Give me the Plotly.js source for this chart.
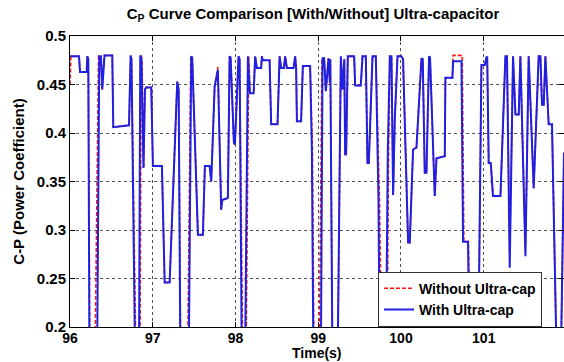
<!DOCTYPE html>
<html>
<head>
<meta charset="utf-8">
<script src="https://cdn.plot.ly/plotly-3.0.1.min.js"></script>
<style>html,body{margin:0;padding:0;background:#fff;}#chart{width:564px;height:362px;}</style>
</head>
<body>
<div id="chart"></div>
<script>
// With ultra-capacitor (blue, solid)
const timeWith = [
96.000,96.109,96.121,96.202,96.209,96.221,96.236,96.326,96.354,96.374,96.390,96.402,96.417,96.511,96.523,96.713,96.733,96.743,
96.789,96.833,96.849,96.864,96.888,96.906,96.921,96.982,97.002,97.111,97.144,97.204,97.296,97.313,97.335,97.434,97.465,97.477,
97.546,97.606,97.630,97.687,97.707,97.748,97.787,97.827,97.839,97.908,97.929,97.941,97.981,97.993,98.017,98.037,98.050,98.077,
98.114,98.150,98.174,98.219,98.238,98.258,98.310,98.319,98.331,98.412,98.431,98.508,98.533,98.552,98.585,98.600,98.621,98.702,
98.721,98.733,98.742,98.793,98.814,98.902,98.923,98.943,99.031,99.052,99.071,99.092,99.124,99.140,99.146,99.173,99.233,99.273,
99.293,99.315,99.325,99.337,99.357,99.434,99.446,99.514,99.535,99.575,99.595,99.611,99.656,99.696,99.728,99.744,99.816,99.841,
99.865,99.885,99.905,99.925,99.958,100.006,100.025,100.086,100.106,100.146,100.187,100.248,100.263,100.287,100.308,100.339,
100.351,100.408,100.429,100.529,100.537,100.622,100.629,100.731,100.750,100.810,100.831,100.931,100.972,101.012,101.033,101.042,
101.060,101.085,101.112,101.202,101.262,101.281,101.314,101.354,101.383,101.423,101.443,101.504,101.543,101.604,101.664,101.685,
101.704,101.725,101.745,101.785,101.825,101.885,101.930,101.970
];
const cpWith = [
0.479,0.479,0.463,0.463,0.479,0.476,0.150,0.150,0.479,0.479,0.445,0.465,0.480,0.480,0.406,0.408,0.480,0.476,
0.150,0.150,0.480,0.476,0.364,0.445,0.447,0.447,0.366,0.366,0.246,0.246,0.453,0.445,0.150,0.150,0.479,0.478,
0.295,0.295,0.366,0.366,0.350,0.448,0.465,0.321,0.331,0.333,0.479,0.478,0.390,0.388,0.434,0.479,0.476,0.150,
0.150,0.479,0.441,0.441,0.479,0.467,0.467,0.479,0.475,0.475,0.409,0.409,0.479,0.467,0.467,0.479,0.467,0.467,
0.479,0.467,0.412,0.412,0.469,0.469,0.383,0.150,0.150,0.477,0.477,0.443,0.477,0.452,0.476,0.150,0.150,0.479,
0.445,0.476,0.378,0.378,0.479,0.479,0.449,0.449,0.479,0.479,0.369,0.369,0.479,0.479,0.331,0.150,0.150,0.383,
0.479,0.479,0.336,0.414,0.479,0.479,0.476,0.287,0.287,0.383,0.385,0.477,0.476,0.359,0.359,0.479,
0.478,0.335,0.374,0.376,0.457,0.457,0.474,0.474,0.288,0.288,0.150,0.150,0.470,0.470,0.478,0.478,
0.369,0.369,0.335,0.335,0.479,0.479,0.261,0.479,0.419,0.419,0.479,0.273,0.479,0.343,0.479,0.479,
0.429,0.429,0.479,0.409,0.409,0.150,0.150,0.380
];
// Without ultra-capacitor (red, dashed)
const timeWithout = [
96.000,96.010,96.109,96.121,96.202,96.209,96.221,96.240,96.300,96.345,96.374,96.390,96.402,96.417,96.511,96.523,96.713,96.733,96.743,
96.800,96.845,96.860,96.870,96.890,96.906,96.921,96.982,97.002,97.111,97.144,97.204,97.296,97.313,97.340,97.420,97.460,97.477,
97.546,97.606,97.630,97.687,97.707,97.748,97.787,97.827,97.839,97.908,97.929,97.941,97.981,97.993,98.017,98.037,98.050,98.090,
98.125,98.160,98.178,98.219,98.238,98.258,98.310,98.319,98.331,98.412,98.431,98.508,98.533,98.552,98.585,98.600,98.621,98.702,
98.721,98.733,98.742,98.793,98.814,98.902,98.930,98.950,99.010,99.045,99.071,99.092,99.124,99.140,99.146,99.173,99.233,99.273,
99.293,99.315,99.325,99.337,99.357,99.434,99.446,99.514,99.535,99.575,99.595,99.611,99.656,99.696,99.740,99.770,99.830,99.850,
99.868,99.885,99.905,99.925,99.958,100.006,100.025,100.086,100.106,100.146,100.187,100.248,100.263,100.287,100.308,100.339,
100.351,100.408,100.429,100.529,100.537,100.622,100.629,100.740,100.760,100.815,100.840,100.931,100.972,101.012,101.033,101.042,
101.060,101.085,101.112,101.202,101.262,101.281,101.314,101.354,101.383,101.423,101.443,101.504,101.543,101.604,101.664,101.685,
101.704,101.725,101.745,101.785,101.825,101.885,101.930,101.970
];
const cpWithout = [
0.450,0.479,0.479,0.463,0.463,0.479,0.476,0.150,0.150,0.479,0.479,0.445,0.465,0.480,0.480,0.406,0.408,0.480,0.476,
0.150,0.150,0.480,0.476,0.364,0.445,0.447,0.447,0.366,0.366,0.246,0.246,0.453,0.445,0.150,0.150,0.479,0.478,
0.295,0.295,0.366,0.366,0.350,0.448,0.468,0.321,0.331,0.333,0.479,0.478,0.390,0.388,0.434,0.479,0.476,0.150,
0.150,0.479,0.441,0.441,0.479,0.467,0.467,0.479,0.475,0.475,0.409,0.409,0.479,0.467,0.467,0.479,0.467,0.467,
0.479,0.467,0.412,0.412,0.469,0.469,0.383,0.150,0.150,0.477,0.477,0.443,0.477,0.452,0.476,0.150,0.150,0.479,
0.445,0.476,0.378,0.378,0.479,0.479,0.449,0.449,0.479,0.479,0.369,0.369,0.479,0.479,0.331,0.150,0.150,0.383,
0.479,0.479,0.336,0.414,0.479,0.479,0.476,0.287,0.287,0.383,0.385,0.477,0.476,0.359,0.359,0.479,
0.478,0.335,0.374,0.376,0.457,0.457,0.480,0.480,0.288,0.288,0.150,0.150,0.470,0.470,0.478,0.478,
0.369,0.369,0.335,0.335,0.479,0.479,0.275,0.479,0.419,0.419,0.479,0.280,0.479,0.343,0.479,0.479,
0.429,0.429,0.479,0.409,0.409,0.150,0.150,0.380
];
const xTicks = [96, 97, 98, 99, 100, 101];
const yTicks = [0.2, 0.25, 0.3, 0.35, 0.4, 0.45, 0.5];
const seriesNames = ['Without Ultra-cap', 'With Ultra-cap'];

const FONT = 'Liberation Sans, Arial, Helvetica, sans-serif';
const traces = [
  {x: timeWithout, y: cpWithout, name: seriesNames[0], type: 'scatter', mode: 'lines',
   line: {color: '#ff1010', width: 1.6, dash: '4px,2px'}},
  {x: timeWith, y: cpWith, name: seriesNames[1], type: 'scatter', mode: 'lines',
   line: {color: '#2020e0', width: 2}}
];
const axisCommon = {
  showline: true, linecolor: '#000', linewidth: 1, mirror: 'ticks',
  ticks: 'inside', ticklen: 5, tickcolor: '#000',
  showgrid: true, gridcolor: '#555', griddash: 'dot', gridwidth: 1,
  zeroline: false,
  tickfont: {family: FONT, size: 15, color: '#000', weight: 'bold'}
};
const layout = {
  width: 564, height: 362,
  margin: {l: 70, r: 0, t: 36, b: 35},
  paper_bgcolor: '#fff', plot_bgcolor: '#fff',
  showlegend: true,
  title: {text: 'C<sub>P</sub> Curve Comparison [With/Without] Ultra-capacitor',
          font: {family: FONT, size: 15, color: '#000', weight: 'bold'},
          x: 0.555, xanchor: 'center', xref: 'container', y: 0.962, yanchor: 'middle', yref: 'container'},
  xaxis: Object.assign({}, axisCommon, {
    range: [96, 101.97], tickvals: xTicks, ticktext: xTicks.map(String),
    ticklabelstandoff: -2,
    tickfont: {family: FONT, size: 14, color: '#000', weight: 'bold'}
  }),
  yaxis: Object.assign({}, axisCommon, {
    range: [0.2, 0.5], tickvals: yTicks, ticktext: yTicks.map(String),
    title: {text: 'C-P (Power Coefficient)', font: {family: FONT, size: 15, color: '#000', weight: 'bold'}, standoff: 8}
  }),
  annotations: [{
    text: 'Time(s)', xref: 'paper', yref: 'paper', x: 0.5, y: 0, xanchor: 'center', yanchor: 'middle',
    yshift: -26, showarrow: false, font: {family: FONT, size: 14, color: '#000', weight: 'bold'}
  }],
  legend: {x: 0.6235, y: 0.19, xanchor: 'left', yanchor: 'top',
           bgcolor: '#fff', bordercolor: '#333', borderwidth: 1,
           font: {family: FONT, size: 14, color: '#000', weight: 'bold'},
           tracegroupgap: 0}
};
Plotly.newPlot('chart', traces, layout, {displayModeBar: false, staticPlot: true});
</script>
</body>
</html>
